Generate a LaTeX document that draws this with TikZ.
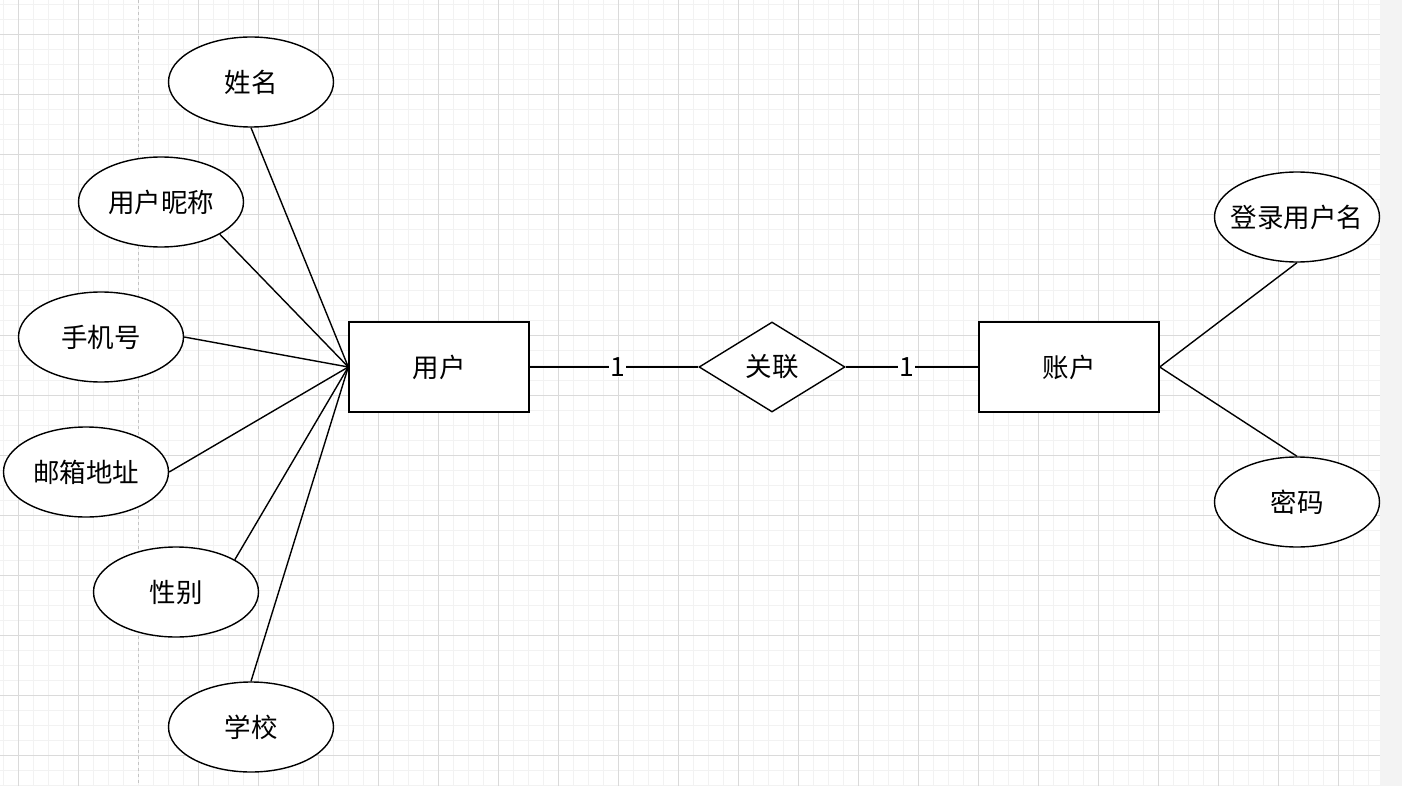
\documentclass[tikz,border=0pt]{standalone}
\usepackage{fontspec}
\setmainfont{Noto Sans CJK SC}
\usetikzlibrary{shapes.geometric}
\definecolor{gmajor}{HTML}{DADADA}
\definecolor{gminor}{HTML}{F2F2F2}
\definecolor{gdash}{HTML}{C4C4C4}
\definecolor{gside}{HTML}{F3F3F3}
\begin{document}
\begin{tikzpicture}[x=1pt,y=-1pt,
  txt/.style={font=\fontsize{26.5}{30}\selectfont},
  attr/.style={draw,ellipse,line width=1.4pt,fill=white,minimum width=165pt,minimum height=90pt,inner sep=0pt,txt},
  entity/.style={draw,rectangle,line width=1.4pt,fill=white,minimum width=180pt,minimum height=90pt,inner sep=0pt,txt},
  rel/.style={draw,diamond,aspect=1.62,line width=1.4pt,fill=white,minimum width=146pt,minimum height=90pt,inner sep=0pt,txt},
  link/.style={line width=1.4pt},
  card/.style={fill=white,inner sep=1pt,txt}]
\useasboundingbox (0,0) rectangle (1402,786);
\fill[white] (0,0) rectangle (1380,786);
\fill[gside] (1380,0) rectangle (1402,786);
\foreach \x in {3,18,...,1378} \draw[gminor,line width=1pt] (\x,0) -- (\x,786);
\foreach \y in {5,20,...,785} \draw[gminor,line width=1pt] (0,\y) -- (1380,\y);
\foreach \x in {18,78,198,258,...,1378} \draw[gmajor,line width=1pt] (\x,0) -- (\x,786);
\foreach \y in {35,95,...,785} \draw[gmajor,line width=1pt] (0,\y) -- (1380,\y);
\draw[gdash,line width=1pt,dash pattern=on 3pt off 3pt] (138.5,0) -- (138.5,786);

\node[attr] (xm) at (251,82) {姓名};
\node[attr] (nc) at (161,202) {\makebox[0pt]{用户昵称}};
\node[attr] (sj) at (101,337) {手机号};
\node[attr] (yx) at (86,472) {\makebox[0pt]{邮箱地址}};
\node[attr] (xb) at (176,592) {性别};
\node[attr] (xx) at (251,727) {学校};
\node[attr] (dl) at (1297,217) {\makebox[0pt]{登录用户名}};
\node[attr] (mm) at (1297,502) {密码};

\node[entity] (yh) at (439,367) {用户};
\node[rel] (gl) at (772,367) {关联};
\node[entity] (zh) at (1069,367) {账户};

\draw[link] (yh.west) -- (xm.south);
\draw[link] (yh.west) -- (nc.south east);
\draw[link] (yh.west) -- (sj.east);
\draw[link] (yh.west) -- (yx.east);
\draw[link] (yh.west) -- (xb.north east);
\draw[link] (yh.west) -- (xx.north);
\draw[link] (zh.east) -- (dl.south);
\draw[link] (zh.east) -- (mm.north);

\draw[link] (yh.east) -- node[card,pos=0.52] {1} (gl.west);
\draw[link] (gl.east) -- node[card,pos=0.46] {1} (zh.west);
\end{tikzpicture}
\end{document}
